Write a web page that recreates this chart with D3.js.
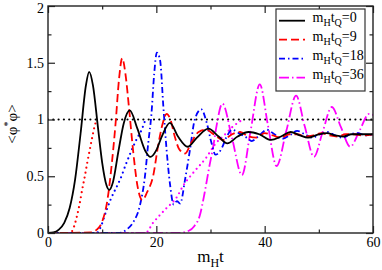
<!DOCTYPE html>
<html>
<head>
<meta charset="utf-8">
<script src="https://cdn.jsdelivr.net/npm/d3@7"></script>
<style>
  body { margin: 0; background: #fff; }
  svg { display: block; }
  svg text { font-family: "Liberation Serif", "Times New Roman", "DejaVu Serif", serif; }
</style>
</head>
<body>
<div class="vis"></div>
<script>
// values
const tBlack = [0, 1, 2, 3, 4, 5, 6, 7, 7.6, 8.3, 9.2, 10, 10.8, 11.3, 12, 13, 14, 15.1, 16.5, 18, 18.9, 20, 21, 22.5, 24, 25.8, 27.5, 29.6, 31.5, 33.1, 35, 37, 39, 41.2, 43, 44.8, 46.5, 48, 50, 51.5, 53, 54.5, 56, 58, 60];
const vBlack = [0, 0.005, 0.03, 0.09, 0.22, 0.47, 0.87, 1.3, 1.42, 1.3, 0.94, 0.62, 0.42, 0.38, 0.45, 0.72, 0.97, 1.08, 0.92, 0.72, 0.67, 0.73, 0.85, 0.97, 0.85, 0.76, 0.84, 0.92, 0.85, 0.79, 0.85, 0.89, 0.87, 0.82, 0.85, 0.89, 0.86, 0.84, 0.87, 0.88, 0.86, 0.85, 0.87, 0.87, 0.87];

const tRed = [0, 8, 9, 10, 11, 11.8, 12.5, 13.1, 13.7, 14.3, 15, 15.7, 16.5, 17.4, 18.3, 19.4, 20.4, 21.2, 21.9, 22.6, 23.4, 24.2, 25.3, 26.5, 27.8, 29.2, 30.6, 32.3, 34, 35.5, 37, 38.5, 40, 41.5, 43, 44.5, 46, 47.5, 49, 50.5, 52, 53.5, 55, 56.5, 58, 60];
const vRed = [0, 0.005, 0.03, 0.1, 0.3, 0.62, 0.98, 1.35, 1.54, 1.4, 1.08, 0.73, 0.42, 0.29, 0.36, 0.5, 0.79, 0.97, 1.05, 1.0, 0.85, 0.74, 0.7, 0.8, 0.89, 0.91, 0.87, 0.82, 0.87, 0.89, 0.85, 0.84, 0.88, 0.86, 0.84, 0.87, 0.87, 0.85, 0.86, 0.88, 0.86, 0.85, 0.87, 0.87, 0.86, 0.87];

const tBlue = [0, 13, 14.5, 15.8, 16.9, 17.9, 18.5, 19.1, 19.6, 20.1, 20.7, 21.3, 21.9, 22.5, 23.2, 23.8, 24.4, 25.3, 26.2, 27.1, 28.3, 29.3, 30.2, 30.9, 32, 33, 34, 35.2, 36.7, 37.6, 39, 40.4, 41.8, 43.2, 44.6, 46, 47.4, 48.8, 50.2, 51.6, 53, 54.4, 55.8, 57.2, 58.6, 60];
const vBlue = [0, 0, 0.03, 0.1, 0.23, 0.5, 0.79, 1.05, 1.4, 1.59, 1.52, 1.11, 0.73, 0.44, 0.25, 0.28, 0.26, 0.47, 0.73, 1.0, 1.09, 0.97, 0.79, 0.69, 0.74, 0.85, 0.91, 0.88, 0.84, 0.81, 0.86, 0.91, 0.87, 0.83, 0.86, 0.9, 0.87, 0.84, 0.87, 0.89, 0.86, 0.84, 0.87, 0.88, 0.86, 0.87];

const tMag = [0, 24, 26, 27, 28, 28.9, 29.8, 30.5, 31.1, 32.2, 34, 35.8, 37.4, 39.1, 40.6, 42.2, 44, 45.8, 47.4, 49.1, 50.7, 52.4, 54.1, 55.8, 57.5, 59.3, 60];
const vMag = [0, 0, 0.02, 0.06, 0.15, 0.35, 0.59, 0.76, 0.94, 1.14, 0.83, 0.51, 0.9, 1.31, 0.95, 0.59, 0.9, 1.21, 0.94, 0.67, 0.89, 1.11, 0.93, 0.76, 0.9, 1.05, 1.04];

// dotted ramps
const tRedDot = [0, 4, 4.5, 4.9, 5.4, 5.85, 6.3, 6.8, 7.25, 7.7, 8.15, 8.6, 9];
const vRedDot = [0, 0, 0.02, 0.07, 0.16, 0.26, 0.38, 0.5, 0.62, 0.73, 0.84, 0.94, 1.0];
const tBlueDot = [0, 9, 9.6, 10.8, 11.6, 12.5, 13.3, 14.5, 15.1, 16.4, 17.2, 18];
const vBlueDot = [0, 0, 0.04, 0.2, 0.3, 0.39, 0.47, 0.62, 0.69, 0.83, 0.9, 1.0];
const tMagDot = [0, 18, 19.4, 20.7, 21.9, 23.7, 25, 26.8, 29.3, 30.8, 32.5, 34.2, 36];
const vMagDot = [0, 0, 0.09, 0.16, 0.22, 0.31, 0.42, 0.53, 0.67, 0.78, 0.86, 0.94, 1.0];

const tLevel = [0, 60];
const vLevel = [1, 1];

const xTicks = [0, 20, 40, 60];
const xMinor = [10, 30, 50];
const yTicks = [0, 0.5, 1, 1.5, 2];
const yMinor = [0.25, 0.75, 1.25, 1.75];
const legendLabels = ["0", "9", "18", "36"];

const width = 382, height = 270,
    margin = {top: 6, right: 9, bottom: 37, left: 48};
const iw = width - margin.left - margin.right,
    ih = height - margin.top - margin.bottom;

const svg = d3.select(".vis").append("svg")
    .attr("width", width)
    .attr("height", height);

const g = svg.append("g")
    .attr("transform", "translate(" + margin.left + "," + margin.top + ")");

const x = d3.scaleLinear().domain([0, 60]).range([0, iw]);
const y = d3.scaleLinear().domain([0, 2]).range([ih, 0]);

svg.append("defs").append("clipPath").attr("id", "plotClip")
    .append("rect").attr("width", iw).attr("height", ih);

const line = d3.line()
    .x(d => x(d[0]))
    .y(d => y(d[1]))
    .curve(d3.curveMonotoneX);

const zip = (ts, vs) => ts.map((t, i) => [t, vs[i]]);

const series = [
    {t: tLevel, v: vLevel, color: "#000", dash: "0 5.3", w: 2.2, cap: "round"},
    {t: tRedDot, v: vRedDot, color: "#ff0000", dash: "0 5", w: 2.2, cap: "round"},
    {t: tBlueDot, v: vBlueDot, color: "#0000ff", dash: "0 5", w: 2.2, cap: "round"},
    {t: tMagDot, v: vMagDot, color: "#ff00ff", dash: "0 5", w: 2.2, cap: "round"},
    {t: tMag, v: vMag, color: "#ff00ff", dash: "10 3 1.5 3", w: 1.8, cap: "butt"},
    {t: tBlue, v: vBlue, color: "#0000ff", dash: "6 3 1.5 3", w: 1.8, cap: "butt"},
    {t: tRed, v: vRed, color: "#ff0000", dash: "8 4", w: 1.8, cap: "butt"},
    {t: tBlack, v: vBlack, color: "#000", dash: null, w: 1.8, cap: "butt"}
];

const plot = g.append("g").attr("clip-path", "url(#plotClip)");
series.forEach(s => {
    plot.append("path")
        .datum(zip(s.t, s.v))
        .attr("d", line)
        .attr("fill", "none")
        .attr("stroke", s.color)
        .attr("stroke-width", s.w)
        .attr("stroke-linecap", s.cap)
        .attr("stroke-dasharray", s.dash);
});

// axes, ticks pointing inward
function styleAxis(sel) {
    sel.select(".domain").remove();
    sel.attr("font-family", null);
    sel.selectAll("line").attr("stroke", "#222").attr("stroke-width", 1.2);
    sel.selectAll("text").attr("fill", "#000").style("font-size", "14px");
}

g.append("g").attr("transform", "translate(0," + ih + ")")
    .call(d3.axisBottom(x).tickValues(xTicks).tickSize(-7).tickPadding(4.5).tickFormat(d3.format("")))
    .call(styleAxis);
g.append("g").attr("transform", "translate(0," + ih + ")")
    .call(d3.axisBottom(x).tickValues(xMinor).tickSize(-3.5).tickFormat(""))
    .call(styleAxis);
g.append("g")
    .call(d3.axisTop(x).tickValues(xTicks).tickSize(-7).tickFormat(""))
    .call(styleAxis);
g.append("g")
    .call(d3.axisTop(x).tickValues(xMinor).tickSize(-3.5).tickFormat(""))
    .call(styleAxis);

g.append("g")
    .call(d3.axisLeft(y).tickValues(yTicks).tickSize(-7).tickPadding(4).tickFormat(d3.format("")))
    .call(styleAxis);
g.append("g")
    .call(d3.axisLeft(y).tickValues(yMinor).tickSize(-3.5).tickFormat(""))
    .call(styleAxis);
g.append("g").attr("transform", "translate(" + iw + ",0)")
    .call(d3.axisRight(y).tickValues(yTicks).tickSize(-7).tickFormat(""))
    .call(styleAxis);
g.append("g").attr("transform", "translate(" + iw + ",0)")
    .call(d3.axisRight(y).tickValues(yMinor).tickSize(-3.5).tickFormat(""))
    .call(styleAxis);

// nudge the top label so it stays inside the picture
g.selectAll("text").filter(d => d === 2).attr("dy", "0.45em");

g.append("rect")
    .attr("width", iw).attr("height", ih)
    .attr("fill", "none")
    .attr("stroke", "#222")
    .attr("stroke-width", 1.4);

// axis titles
const xt = svg.append("text")
    .attr("x", margin.left + iw / 2)
    .attr("y", 262)
    .attr("text-anchor", "middle")
    .style("font-size", "17px");
xt.append("tspan").text("m");
xt.append("tspan").attr("dy", 5).style("font-size", "12px").text("H");
xt.append("tspan").attr("dy", -5).text("t");

const yt = svg.append("text")
    .attr("transform", "translate(17,124) rotate(-90)")
    .attr("text-anchor", "middle")
    .style("font-size", "15px");
yt.append("tspan").text("<φ");
yt.append("tspan").attr("dy", -6).style("font-size", "10px").text("*");
yt.append("tspan").attr("dy", 6).text("φ>");

// legend
const legend = svg.append("g").attr("transform", "translate(276,9)");
legend.append("rect")
    .attr("width", 89).attr("height", 82)
    .attr("fill", "#fff")
    .attr("stroke", "#333")
    .attr("stroke-width", 1.2);

const legendSeries = [series[7], series[6], series[5], series[4]];
const rowY = d3.scalePoint().domain(legendLabels).range([11.7, 68.7]);

legendLabels.forEach((lab, i) => {
    const s = legendSeries[i];
    const yy = rowY(lab);
    legend.append("line")
        .attr("x1", 3).attr("x2", 29)
        .attr("y1", yy).attr("y2", yy)
        .attr("stroke", s.color)
        .attr("stroke-width", s.w)
        .attr("stroke-dasharray", s.dash);
    const tx = legend.append("text")
        .attr("x", 36.5).attr("y", yy + 1.2)
        .style("font-size", "14px");
    tx.append("tspan").text("m");
    tx.append("tspan").attr("dy", 4).style("font-size", "10px").text("H");
    tx.append("tspan").attr("dy", -4).text("t");
    tx.append("tspan").attr("dy", 4).style("font-size", "10px").text("Q");
    tx.append("tspan").attr("dy", -4).text("=" + lab);
});
</script>
</body>
</html>
